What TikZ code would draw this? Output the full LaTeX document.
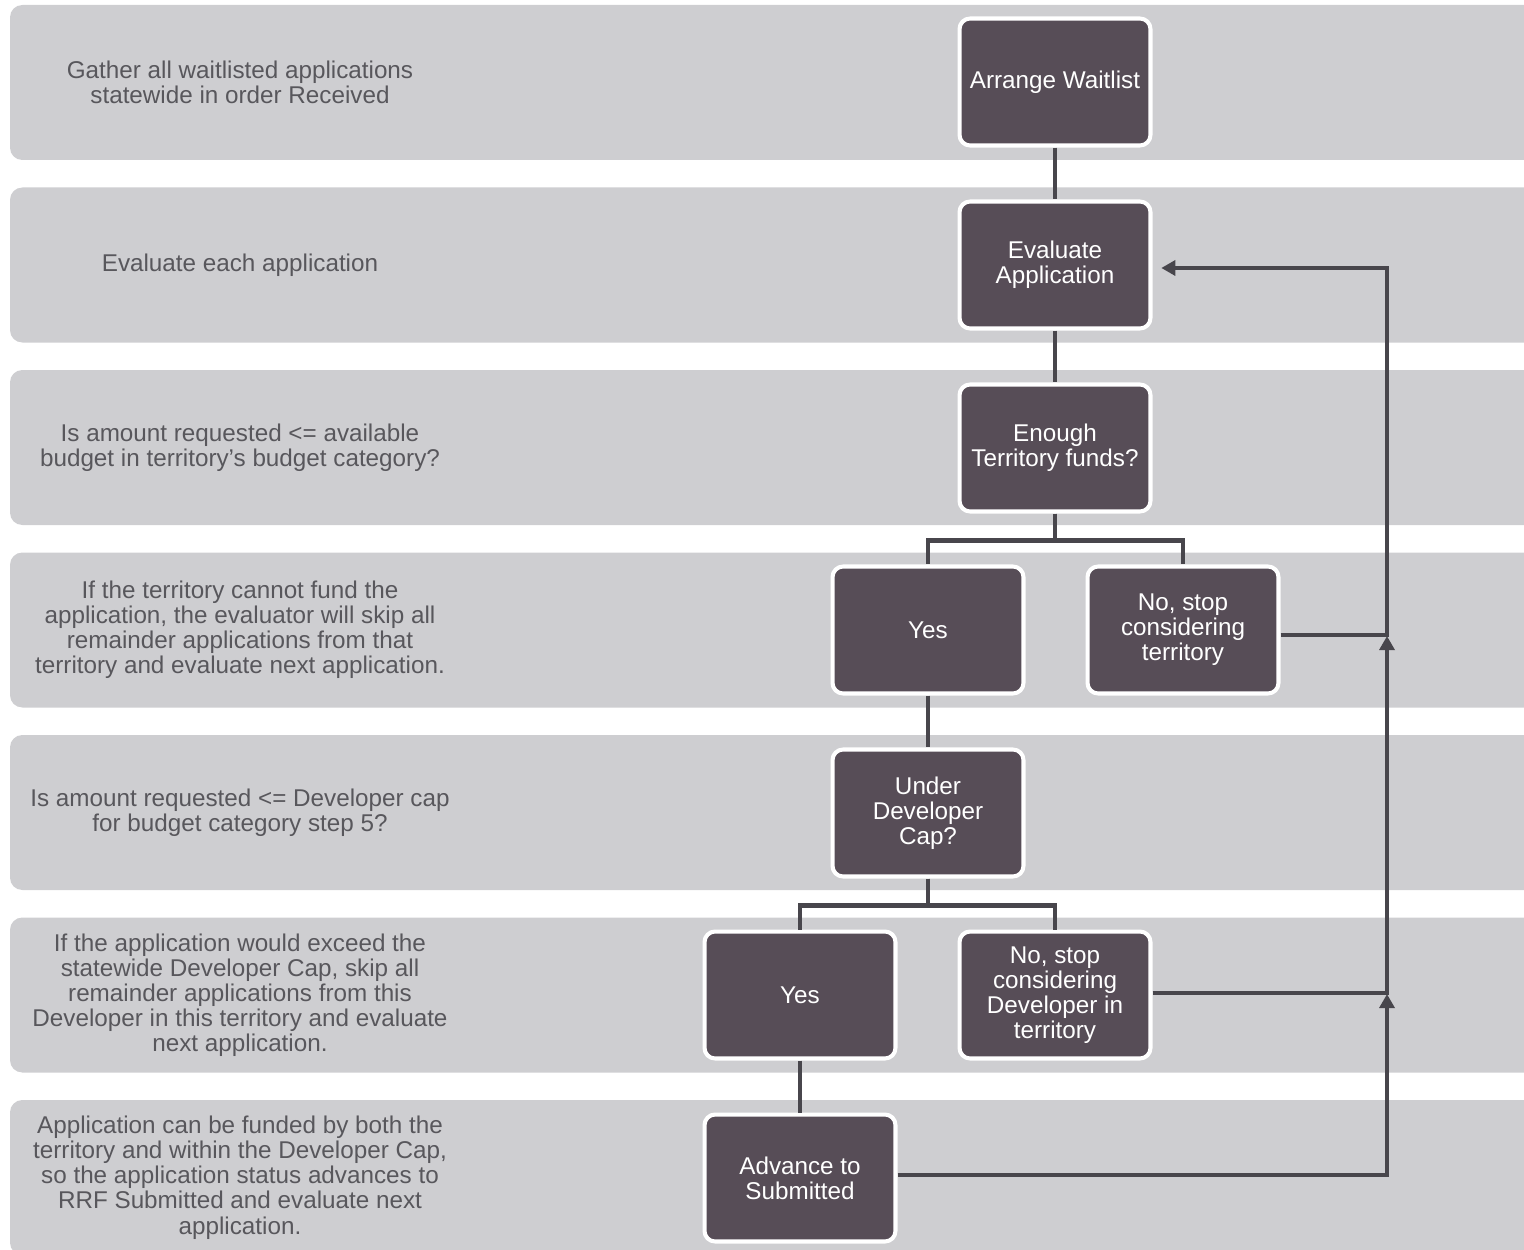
\documentclass[tikz,border=0pt]{standalone}
\usepackage{fontspec}
\setmainfont{Liberation Sans}
\usepackage{tikz}
\usetikzlibrary{arrows.meta}

\definecolor{bandgray}{RGB}{206,206,209}
\definecolor{boxfill}{RGB}{87,77,87}
\definecolor{linecol}{RGB}{72,70,76}
\definecolor{notecol}{RGB}{88,87,92}

\begin{document}
\begin{tikzpicture}[x=0.02cm, y=-0.02cm,
  every node/.style={font=\fontsize{13.8}{14.3}\selectfont},
  note/.style={text=notecol, align=center},
  stepbox/.style={rectangle, rounded corners=6pt, draw=white, line width=2.3pt,
    fill=boxfill, text=white, align=center, inner sep=2pt,
    minimum width=3.82cm, minimum height=2.54cm},
  link/.style={draw=linecol, line width=2.3pt},
  back/.style={link, -{Triangle[length=8pt,width=8.5pt]}}]
  \useasboundingbox (0,0) rectangle (1524,1250);
  \clip (0,0) rectangle (1524,1250);

  % Bands
  \foreach \i in {0,...,6}{
    \fill[bandgray, rounded corners=7pt] (10,{5+182.5*\i}) rectangle (1570,{160+182.5*\i});
  }

  % Step descriptions
  \foreach \i/\txt in {
    0/{Gather all waitlisted applications\\statewide in order Received},
    1/{Evaluate each application},
    2/{Is amount requested <= available\\budget in territory's budget category?},
    3/{If the territory cannot fund the\\application, the evaluator will skip all\\remainder applications from that\\territory and evaluate next application.},
    4/{Is amount requested <= Developer cap\\for budget category step 5?},
    5/{If the application would exceed the\\statewide Developer Cap, skip all\\remainder applications from this\\Developer in this territory and evaluate\\next application.},
    6/{Application can be funded by both the\\territory and within the Developer Cap,\\so the application status advances to\\RRF Submitted and evaluate next\\application.}}{
    \node[note] (note\i) at (240,{82.5+182.5*\i}) {\txt};
  }

  % Steps
  \node[stepbox] (arrange)  at (1055,82)  {Arrange Waitlist};
  \node[stepbox] (evaluate) at (1055,265) {Evaluate\\Application};
  \node[stepbox] (enough)   at (1055,448) {Enough\\Territory funds?};
  \node[stepbox] (yesFunds) at (928,630)  {Yes};
  \node[stepbox] (noFunds)  at (1183,630) {No, stop\\considering\\territory};
  \node[stepbox] (underCap) at (928,813)  {Under\\Developer\\Cap?};
  \node[stepbox] (yesCap)   at (800,995)  {Yes};
  \node[stepbox] (noCap)    at (1055,995) {No, stop\\considering\\Developer in\\territory};
  \node[stepbox] (advance)  at (800,1178) {Advance to\\Submitted};

  % Links
  \draw[link] (arrange) -- (evaluate);
  \draw[link] (evaluate) -- (enough);
  \draw[link] (enough.south) -- ++(0,27) -| (yesFunds.north);
  \draw[link] (enough.south) -- ++(0,27) -| (noFunds.north);
  \draw[link] (yesFunds) -- (underCap);
  \draw[link] (underCap.south) -- ++(0,27) -| (yesCap.north);
  \draw[link] (underCap.south) -- ++(0,27) -| (noCap.north);
  \draw[link] (yesCap) -- (advance);

  % Back to evaluation
  \coordinate (tipFunds) at (1387,636);
  \coordinate (tipCap) at (1387,994);
  \draw[back] ([yshift=1.7pt]advance.east) -| (tipCap);
  \draw[back] ([yshift=1.1pt]noCap.east) -| (tipFunds);
  \draw[back, shorten >=5pt] ([yshift=-2.8pt]noFunds.east) -- ([yshift=-2.8pt]noFunds.east -| tipFunds) |- ([yshift=-1.7pt]evaluate.east);
\end{tikzpicture}
\end{document}
